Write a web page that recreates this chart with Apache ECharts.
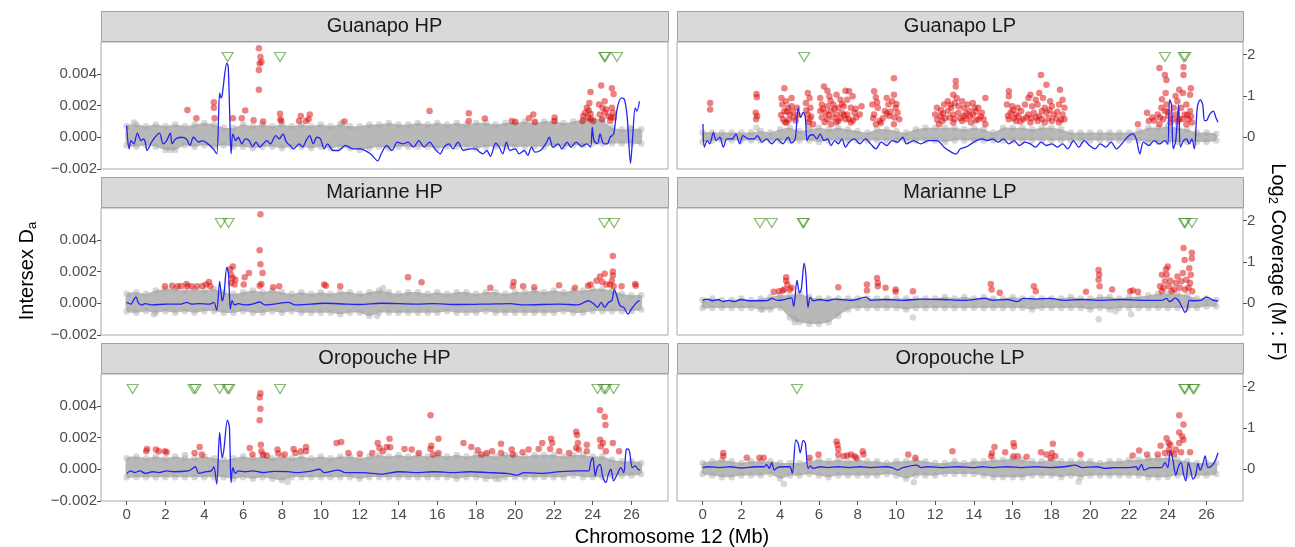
<!DOCTYPE html>
<html>
<head>
<meta charset="utf-8">
<script src="https://cdn.jsdelivr.net/npm/echarts@6/dist/echarts.min.js"></script>
<style>
  html, body { margin: 0; padding: 0; background: #fff; }
  #chart { width: 1295px; height: 547px; }
</style>
</head>
<body>
<div id="chart"></div>
<script>
// Da values are in units of 1e-3, log2 coverage in its own units (right axis)
const X_TICKS = [0, 2, 4, 6, 8, 10, 12, 14, 16, 18, 20, 22, 24, 26]
const DA_TICKS = [-2, 0, 2, 4]
const COV_TICKS = [0, 1, 2]
const TRI_Y = 5.05

// bins of the grey (non significant) cloud
const ENV_X = [0, 0.5, 1, 1.5, 2, 2.5, 3, 3.5, 4, 4.5, 5, 5.5, 6, 6.5, 7, 7.5, 8, 8.5, 9, 9.5,
  10, 10.5, 11, 11.5, 12, 12.5, 13, 13.5, 14, 14.5, 15, 15.5, 16, 16.5, 17, 17.5, 18, 18.5, 19, 19.5,
  20, 20.5, 21, 21.5, 22, 22.5, 23, 23.5, 24, 24.5, 25, 25.5, 26, 26.5]

// ---- Guanapo HP
const ghpHi = [0.7, 0.8, 0.7, 0.8, 0.7, 0.8, 0.7, 0.8, 0.9, 0.8,
  0.6, 0.6, 0.8, 0.7, 0.8, 0.7, 0.8, 0.7, 0.8, 0.7,
  0.8, 0.7, 0.8, 0.7, 0.7, 0.8, 0.8, 0.9, 0.8, 0.8,
  0.9, 0.8, 0.9, 0.8, 0.9, 0.8, 0.9, 0.9, 0.8, 0.9,
  0.9, 1.0, 0.9, 1.0, 1.0, 0.9, 1.0, 1.1, 1.2, 1.1,
  0.6, 0.5, 0.5, 0.5]
const ghpLo = [-0.5, -0.6, -0.5, -0.6, -0.8, -0.8, -0.5, -0.6, -0.5, -0.6,
  -0.5, -0.6, -0.6, -0.7, -0.6, -0.6, -0.7, -0.6, -0.6, -0.7,
  -0.6, -0.7, -0.6, -0.7, -0.8, -0.7, -0.6, -0.7, -0.6, -0.6,
  -0.6, -0.6, -0.7, -0.6, -0.6, -0.6, -0.7, -0.6, -0.6, -0.6,
  -0.6, -0.6, -0.6, -0.6, -0.5, -0.6, -0.5, -0.5, -0.4, -0.4,
  -0.4, -0.4, -0.4, -0.4]
const ghpGrey = [[0.37, 0.93], [2.25, -0.8], [11.09, 0.93], [25.9, 0.6]]
const ghpRed = [[6.81, 5.61], [6.89, 5.05], [6.94, 4.74], [6.85, 4.64], [6.81, 4.23], [6.81, 2.99], [3.13, 1.71], [3.59, 1.2],
  [4.49, 1.86], [4.49, 2.21], [4.53, 1.2], [5.47, 1.2], [5.93, 1.2], [6.11, 1.69], [6.54, 1.07], [7.03, 0.99], [7.9, 1.48],
  [7.92, 1.13], [7.96, 1.03], [8.97, 1.34], [8.88, 1.03], [9.24, 1.03], [9.43, 1.44], [9.37, 1.13], [11.22, 0.99], [15.6, 1.65],
  [17.62, 1.51], [17.62, 1.03], [18.45, 1.18], [19.83, 1.03], [20.02, 0.97], [20.72, 1.2], [20.94, 1.44], [21.03, 0.97],
  [22.04, 1.24], [22.04, 1.03], [23.89, 2.85], [24.44, 3.26], [24.99, 3.09], [25.08, 2.72], [24.62, 2.27], [23.83, 2.16],
  [23.7, 1.86], [23.8, 1.69], [23.61, 1.55], [23.89, 1.48], [23.52, 1.34], [23.76, 1.24], [23.89, 1.13], [23.48, 1.03],
  [24.03, 1.03], [24.33, 2.06], [24.51, 1.86], [24.7, 1.75], [24.36, 1.44], [24.62, 1.55], [24.81, 1.34], [24.99, 1.86],
  [25.04, 1.55], [24.94, 1.24], [25.08, 1.24], [24.9, 1.03], [24.49, 1.13]]
const ghpCov = [[0, 0.28], [0.13, -0.28], [0.22, -0.08], [0.37, -0.16], [0.55, 0.1], [0.74, -0.08], [0.87, -0.04], [0.96, -0.12],
  [1.05, -0.32], [1.33, -0.08], [1.69, 0.1], [1.88, -0.16], [2.06, -0.08], [2.25, 0.1], [2.34, -0.16], [2.52, -0.04], [2.8, 0],
  [3.08, -0.04], [3.26, -0.2], [3.44, 0], [3.72, -0.12], [3.9, -0.08], [4.18, -0.16], [4.46, -0.28], [4.64, -0.4], [4.79, 1.07],
  [4.86, 0.95], [4.92, 1.02], [5.16, 1.79], [5.23, 1.71], [5.3, 0.71], [5.38, -0.4], [5.47, 0.08], [5.62, -0.08], [5.75, 0],
  [5.93, -0.16], [6.11, -0.04], [6.3, -0.08], [6.48, -0.22], [6.67, -0.12], [6.85, -0.24], [7.03, -0.16], [7.22, -0.08],
  [7.4, -0.16], [7.68, 0.04], [7.86, -0.04], [8.05, 0.08], [8.23, -0.12], [8.42, -0.2], [8.6, -0.28], [8.88, -0.16],
  [9.06, -0.24], [9.24, -0.08], [9.43, 0.04], [9.61, -0.16], [9.8, 0], [9.98, -0.04], [10.17, -0.28], [10.35, -0.16],
  [10.63, -0.32], [10.9, -0.32], [11.27, -0.2], [11.64, -0.28], [12.01, -0.28], [12.56, -0.4], [12.93, -0.57], [13.11, -0.4],
  [13.39, -0.2], [13.66, -0.32], [13.94, -0.12], [14.22, -0.16], [14.49, -0.12], [14.77, -0.24], [15.05, -0.08],
  [15.32, -0.24], [15.6, -0.12], [15.87, -0.28], [16.15, -0.4], [16.34, -0.24], [16.61, -0.16], [16.8, -0.28], [17.07, -0.12],
  [17.35, -0.32], [17.72, -0.28], [17.99, -0.28], [18.18, -0.36], [18.36, -0.4], [18.55, -0.32], [18.73, -0.46],
  [19.01, -0.14], [19.19, -0.24], [19.37, -0.4], [19.56, -0.12], [19.74, -0.32], [20.02, -0.28], [20.2, -0.4], [20.48, -0.32],
  [20.66, -0.44], [20.85, -0.24], [21.03, -0.36], [21.31, -0.32], [21.58, -0.16], [21.77, 0], [21.95, -0.24], [22.23, -0.16],
  [22.41, -0.28], [22.69, -0.12], [22.87, -0.24], [23.15, -0.12], [23.43, -0.22], [23.7, -0.16], [23.89, -0.24],
  [23.98, 0.24], [24.07, -0.08], [24.25, -0.16], [24.38, 0.08], [24.57, -0.16], [24.75, -0.16], [24.9, 0], [25.08, 0.08],
  [25.27, 0.71], [25.49, 0.95], [25.64, 0.91], [25.78, 0.48], [25.95, -0.63], [26.06, 0], [26.19, 0.71], [26.28, 0.63],
  [26.41, 0.87]]
const ghpTri = [5.2, 7.9, 24.6, 24.65, 25.25]

// ---- Guanapo LP
const glpHi = [0.3, 0.3, 0.3, 0.3, 0.3, 0.3, 0.4, 0.3, 0.5, 0.6,
  0.4, 0.5, 0.6, 0.5, 0.6, 0.5, 0.4, 0.3, 0.5, 0.5,
  0.4, 0.3, 0.5, 0.6, 0.6, 0.6, 0.6, 0.5, 0.6, 0.5,
  0.3, 0.6, 0.6, 0.6, 0.5, 0.6, 0.6, 0.5, 0.3, 0.3,
  0.3, 0.3, 0.3, 0.3, 0.3, 0.4, 0.6, 0.6, 0.7, 0.6,
  0.5, 0.3, 0.3, 0.2]
const glpLo = [-0.3, -0.2, -0.2, -0.2, -0.2, -0.2, -0.2, -0.2, -0.2, -0.2,
  -0.2, -0.2, -0.3, -0.2, -0.2, -0.2, -0.2, -0.2, -0.2, -0.2,
  -0.2, -0.2, -0.2, -0.2, -0.2, -0.3, -0.2, -0.2, -0.2, -0.2,
  -0.2, -0.2, -0.2, -0.2, -0.2, -0.2, -0.2, -0.2, -0.2, -0.2,
  -0.2, -0.2, -0.2, -0.2, -0.2, -0.2, -0.3, -0.3, -0.3, -0.3,
  -0.3, -0.3, -0.3, -0.2]
const glpGrey = [[2.78, 0.6], [5.5, 0.7]]
const glpRed = [[0.39, 2.16], [0.39, 1.75],
  [2.78, 2.72], [2.8, 2.52], [2.74, 1.55], [2.81, 1.34], [2.76, 1.13],
  [4.22, 3.09], [4.07, 2.47], [4.31, 2.27], [4.11, 2.06], [4.41, 1.86], [4.59, 1.96], [4.22, 1.65], [4.5, 1.44], [4.7, 1.24],
  [4.15, 1.13], [4.33, 0.93], [4.59, 2.47], [4.87, 1.86], [5.43, 2.78], [5.52, 2.47], [5.33, 2.16], [5.56, 1.86], [5.43, 1.44],
  [5.52, 1.13], [5.7, 0.82], [4.05, 1.4], [4.25, 0.95], [4.45, 1.1], [4.65, 1.6], [4.8, 1.05], [5.35, 1.7], [5.6, 1.3],
  [5.45, 0.95], [4.9, 1.4], [4.35, 1.6],
  [6.26, 3.2], [6.44, 2.93], [6.91, 2.68], [7.37, 2.93], [7.56, 2.89], [6.07, 2.47], [6.54, 2.58], [7.11, 2.37], [7.46, 2.37],
  [7.74, 2.58], [6.15, 2.06], [6.44, 1.96], [6.74, 2.06], [7.0, 1.86], [7.28, 1.96], [7.65, 1.86], [6.07, 1.65], [6.35, 1.55],
  [6.63, 1.65], [6.91, 1.44], [7.19, 1.55], [7.46, 1.44], [7.83, 1.55], [6.15, 1.24], [6.44, 1.13], [6.74, 1.24], [7.0, 1.03],
  [7.37, 1.13], [7.65, 0.93], [6.63, 0.82], [7.93, 1.24], [8.2, 1.96], [8.11, 1.44], [6.2, 1.8], [6.5, 1.4], [6.8, 1.8],
  [7.1, 1.2], [7.3, 1.4], [7.55, 1.15], [7.75, 1.05], [6.3, 0.95], [6.9, 0.95], [7.2, 2.1], [6.6, 2.3], [7.9, 1.8],
  [8.85, 2.89], [8.94, 2.52], [8.76, 2.06], [9.04, 1.86], [8.85, 1.44], [9.13, 1.03], [8.94, 0.82], [9.5, 2.47], [9.59, 2.06],
  [9.41, 1.65], [9.63, 1.34], [9.87, 3.71], [9.87, 2.68], [9.78, 2.27], [9.96, 1.86], [10.06, 1.55], [10.15, 1.13], [9.87, 0.82],
  [8.8, 1.2], [9.0, 2.2], [9.3, 1.2], [9.5, 1.5], [9.7, 1.6], [9.9, 1.25], [10.0, 2.1], [9.2, 0.9],
  [13.06, 3.55], [13.06, 3.2], [12.93, 2.68], [13.11, 2.47], [12.09, 1.86], [12.0, 1.44], [12.28, 1.34], [12.46, 2.06],
  [12.65, 2.27], [12.83, 1.86], [13.02, 2.16], [13.2, 1.96], [13.39, 2.27], [13.48, 1.86], [13.67, 2.06], [13.94, 2.16],
  [14.04, 1.86], [12.65, 1.65], [12.93, 1.44], [13.2, 1.55], [13.48, 1.34], [13.76, 1.65], [13.94, 1.44], [14.22, 1.86],
  [14.41, 1.55], [14.59, 2.47], [14.5, 1.13], [12.37, 1.03], [12.93, 0.93], [13.39, 1.03], [13.85, 0.93], [14.22, 1.13],
  [12.2, 0.82], [14.59, 0.82], [12.1, 1.1], [12.4, 1.5], [12.5, 1.2], [12.75, 1.25], [13.0, 1.15], [13.3, 1.2], [13.6, 1.15],
  [13.8, 1.3], [14.1, 1.05], [14.35, 1.3], [12.8, 2.05], [13.6, 1.5], [14.1, 1.6], [12.3, 1.7],
  [17.46, 3.92], [17.74, 3.3], [16.91, 2.68], [17.37, 2.78], [18.44, 2.99], [15.8, 2.89], [15.8, 2.58], [16.81, 2.47],
  [17.19, 2.37], [17.56, 2.47], [17.93, 2.27], [18.57, 2.37], [15.7, 2.06], [15.98, 1.96], [16.26, 1.86], [16.63, 2.06],
  [17.0, 1.96], [17.28, 2.06], [17.65, 1.86], [18.02, 1.96], [18.39, 2.06], [18.67, 1.86], [15.89, 1.55], [16.17, 1.44],
  [16.44, 1.65], [16.81, 1.44], [17.09, 1.55], [17.37, 1.34], [17.74, 1.55], [18.11, 1.44], [18.57, 1.44], [15.8, 1.13],
  [16.17, 1.03], [16.54, 1.13], [16.91, 0.93], [17.28, 1.03], [17.65, 0.93], [18.02, 1.03], [18.39, 0.93], [18.67, 1.13],
  [15.75, 1.35], [16.05, 1.2], [16.3, 1.3], [16.7, 1.25], [16.95, 1.2], [17.2, 1.25], [17.5, 1.15], [17.85, 1.2], [18.25, 1.2],
  [18.5, 1.1], [16.4, 1.0], [17.9, 1.7], [16.0, 1.7], [18.3, 1.6], [17.5, 1.65],
  [23.57, 4.37], [23.85, 3.92], [23.93, 3.61], [23.89, 2.78], [24.81, 4.43], [24.81, 3.92], [24.59, 2.99], [24.78, 2.78],
  [25.19, 3.09], [25.15, 2.68], [22.46, 0.82], [22.93, 1.55], [23.02, 1.03], [23.2, 1.24], [23.48, 1.44], [23.67, 1.86],
  [23.76, 1.13], [23.93, 2.06], [23.85, 1.65], [24.02, 1.34], [24.13, 0.93], [24.31, 1.86], [24.41, 1.44], [24.5, 2.27],
  [24.59, 1.13], [24.69, 1.86], [24.87, 1.44], [24.96, 2.06], [25.06, 1.13], [25.15, 1.65], [25.24, 0.93], [24.96, 0.82],
  [23.57, 0.82], [23.3, 1.05], [23.6, 1.25], [24.0, 1.6], [24.25, 1.15], [24.5, 1.0], [24.75, 1.15], [25.0, 1.4], [24.4, 2.6],
  [23.7, 2.4], [25.2, 1.3]]
const glpCov = [[0.02, 0.32], [0.09, -0.24], [0.24, -0.08], [0.37, -0.16], [0.56, 0.12], [0.7, -0.08], [0.89, 0], [1.07, -0.24],
  [1.26, -0.04], [1.54, -0.04], [1.72, 0.08], [1.91, -0.16], [2.09, 0.04], [2.37, -0.04], [2.65, -0.04], [2.83, 0.04],
  [3.07, -0.12], [3.3, -0.04], [3.57, -0.16], [3.85, -0.04], [4.13, -0.16], [4.41, 0], [4.59, -0.14], [4.78, -0.04],
  [4.93, 0.71], [5.06, 0.48], [5.19, 0.6], [5.3, 0.48], [5.39, -0.08], [5.52, 0.04], [5.7, 0.06], [5.89, -0.04], [6.07, 0.08],
  [6.26, -0.08], [6.44, -0.04], [6.63, -0.2], [6.81, -0.08], [7.0, -0.16], [7.19, -0.04], [7.37, -0.24], [7.56, -0.12],
  [7.83, -0.04], [8.11, -0.16], [8.39, -0.04], [8.67, -0.16], [8.94, -0.28], [9.22, -0.12], [9.5, -0.2], [9.78, -0.08],
  [10.06, -0.12], [10.33, 0], [10.52, -0.16], [10.89, -0.08], [11.26, -0.16], [11.63, -0.08], [12.09, -0.08], [12.46, -0.24],
  [12.83, -0.36], [13.07, -0.41], [13.3, -0.28], [13.57, -0.24], [13.85, -0.16], [14.13, -0.08], [14.41, -0.04],
  [14.69, -0.08], [14.96, -0.04], [15.24, -0.12], [15.52, -0.04], [15.8, -0.16], [16.07, -0.08], [16.35, -0.2],
  [16.63, -0.12], [16.91, -0.16], [17.19, -0.24], [17.46, -0.12], [17.74, -0.2], [18.02, -0.16], [18.3, -0.24],
  [18.57, -0.16], [18.85, -0.28], [19.13, -0.08], [19.41, -0.24], [19.69, -0.08], [19.96, -0.2], [20.24, -0.28],
  [20.52, -0.16], [20.8, -0.24], [21.07, -0.12], [21.35, -0.28], [21.63, -0.16], [21.91, 0], [22.19, 0.08], [22.37, -0.04],
  [22.56, -0.4], [22.74, -0.12], [23.02, -0.2], [23.3, -0.08], [23.57, -0.16], [23.85, -0.08], [24.0, -0.16], [24.09, 0.91],
  [24.19, 0.79], [24.28, -0.28], [24.41, -0.08], [24.56, 0.79], [24.65, -0.24], [24.81, -0.08], [24.96, -0.04],
  [25.11, -0.16], [25.24, -0.04], [25.37, -0.28], [25.52, 0.71], [25.67, 0.91], [25.8, 0.79], [25.89, 0.4], [25.98, 0.4],
  [26.17, 0.56], [26.35, 0.63], [26.48, 0.48], [26.59, 0.36]]
const glpTri = [5.24, 23.85, 24.82, 24.9]

// ---- Marianne HP
const mhpHi = [0.6, 0.7, 0.6, 0.8, 0.9, 0.9, 0.8, 0.9, 0.8, 0.9,
  0.7, 0.6, 0.7, 0.8, 0.7, 0.8, 0.7, 0.6, 0.7, 0.6,
  0.7, 0.6, 0.7, 0.7, 0.6, 0.7, 0.8, 0.7, 0.6, 0.7,
  0.7, 0.6, 0.7, 0.6, 0.7, 0.7, 0.6, 0.7, 0.7, 0.6,
  0.7, 0.7, 0.8, 0.7, 0.8, 0.7, 0.8, 0.8, 0.9, 0.9,
  0.8, 0.6, 0.5, 0.5]
const mhpLo = [-0.5, -0.6, -0.5, -0.6, -0.5, -0.6, -0.5, -0.6, -0.5, -0.5,
  -0.6, -0.6, -0.5, -0.6, -0.6, -0.5, -0.6, -0.5, -0.6, -0.6,
  -0.6, -0.6, -0.7, -0.6, -0.6, -0.8, -0.6, -0.6, -0.6, -0.6,
  -0.6, -0.6, -0.6, -0.5, -0.6, -0.6, -0.6, -0.5, -0.6, -0.6,
  -0.6, -0.6, -0.6, -0.6, -0.6, -0.5, -0.6, -0.6, -0.5, -0.5,
  -0.5, -0.5, -0.5, -0.4]
const mhpGrey = [[12.9, -0.8], [13.2, 0.95], [1.4, -0.7]]
const mhpRed = [[6.89, 5.61], [6.85, 3.34], [6.89, 2.45], [7.0, 1.9], [6.94, 1.22], [6.85, 1.11], [1.97, 1.07], [2.34, 1.11],
  [2.62, 1.07], [2.8, 1.09], [3.08, 1.22], [3.13, 1.07], [3.35, 1.07], [3.63, 1.07], [3.9, 1.09], [4.09, 1.18], [4.24, 1.34],
  [4.31, 1.07], [5.34, 2.14], [5.47, 2.31], [5.38, 1.79], [5.47, 1.59], [5.6, 1.48], [5.38, 1.28], [5.56, 1.18], [6.08, 1.63],
  [6.3, 1.9], [6.03, 1.18], [7.55, 1.01], [7.86, 1.07], [10.17, 1.18], [10.26, 1.11], [11.0, 1.07], [14.49, 1.63],
  [15.19, 1.32], [18.73, 0.97], [19.93, 1.34], [19.89, 1.07], [20.42, 1.07], [20.99, 1.01], [22.27, 1.13], [23.09, 0.97],
  [23.76, 1.11], [23.89, 1.18], [24.2, 1.42], [24.38, 1.69], [24.62, 1.86], [24.49, 1.34], [24.71, 1.18], [25.04, 2.97],
  [25.04, 2.0], [25.04, 1.75], [24.99, 1.42], [24.9, 1.18], [25.08, 1.07], [25.49, 1.07], [26.19, 1.22], [26.22, 1.11]]
const mhpCov = [[0, 0.02], [0.22, -0.02], [0.41, 0.12], [0.5, 0.15], [0.59, 0.02], [0.77, -0.04], [0.96, -0.01], [1.33, -0.04],
  [2.06, -0.02], [2.8, -0.02], [3.08, 0.02], [3.35, -0.02], [3.72, -0.01], [4.27, -0.02], [4.49, 0.02], [4.64, -0.17],
  [4.79, 0.53], [4.92, 0.06], [5.01, 0.21], [5.16, 0.87], [5.25, 0.69], [5.34, -0.14], [5.43, 0.06], [5.56, -0.04],
  [5.75, -0.01], [6.11, -0.04], [6.48, -0.02], [6.85, 0.03], [7.13, -0.04], [7.59, -0.02], [8.32, 0.02], [8.69, -0.04],
  [9.5, -0.02], [10.2, 0], [11.27, -0.02], [12.0, -0.03], [13.1, 0], [14.95, -0.02], [15.8, -0.01], [17.0, -0.03],
  [18.64, -0.02], [19.74, -0.01], [20.48, -0.04], [22.32, -0.02], [23.24, -0.04], [23.79, 0.06], [24.07, -0.02],
  [24.25, -0.1], [24.44, 0.02], [24.62, -0.1], [24.81, 0.02], [24.99, 0.07], [25.12, 0.33], [25.27, 0.13], [25.41, -0.06],
  [25.6, -0.1], [25.82, -0.26], [26.0, -0.14], [26.19, -0.02], [26.41, 0.07]]
const mhpTri = [4.85, 5.25, 24.6, 25.1]

// ---- Marianne LP
const mlpHi = [0.2, 0.3, 0.2, 0.2, 0.3, 0.2, 0.3, 0.4, 0.5, 0.5,
  0.6, 0.4, 0.3, 0.3, 0.3, 0.3, 0.3, 0.3, 0.3, 0.3,
  0.3, 0.3, 0.3, 0.3, 0.3, 0.4, 0.3, 0.4, 0.3, 0.4,
  0.3, 0.3, 0.4, 0.3, 0.3, 0.3, 0.3, 0.3, 0.4, 0.3,
  0.3, 0.4, 0.4, 0.3, 0.4, 0.4, 0.5, 0.6, 0.6, 0.6,
  0.5, 0.3, 0.3, 0.2]
const mlpLo = [-0.3, -0.3, -0.3, -0.3, -0.3, -0.3, -0.4, -0.4, -0.3, -0.9,
  -1.2, -1.3, -1.3, -1.2, -0.8, -0.4, -0.3, -0.3, -0.3, -0.3,
  -0.3, -0.4, -0.3, -0.3, -0.3, -0.3, -0.3, -0.3, -0.3, -0.3,
  -0.3, -0.3, -0.3, -0.3, -0.4, -0.3, -0.3, -0.3, -0.3, -0.3,
  -0.4, -0.3, -0.4, -0.3, -0.3, -0.3, -0.3, -0.3, -0.3, -0.3,
  -0.3, -0.3, -0.2, -0.2]
const mlpGrey = [[4.75, -1.2], [4.75, -1.0], [10.85, -0.89], [20.43, -1.0], [21.3, -0.5], [22.1, -0.7], [3.1, -0.4]]
const mlpRed = [[3.67, 0.72], [3.94, 0.76], [4.13, 0.8], [4.31, 1.63], [4.31, 1.42], [4.37, 1.18], [4.22, 0.87], [4.5, 0.87],
  [4.59, 0.97], [7.0, 1.01], [8.48, 1.18], [8.48, 0.8], [9.0, 1.59], [9.04, 1.28], [9.04, 1.07], [9.44, 0.97], [9.96, 0.87],
  [9.96, 0.72], [10.85, 0.76], [14.87, 1.22], [14.91, 0.87], [15.33, 0.66], [17.09, 1.07], [17.19, 0.76], [19.78, 0.72],
  [20.43, 2.1], [20.46, 1.79], [20.43, 1.48], [20.48, 1.07], [21.13, 0.87], [22.06, 0.76], [22.46, 0.72], [22.19, 0.8],
  [24.81, 3.48], [25.24, 3.18], [24.87, 2.72], [25.24, 2.82], [24.0, 2.31], [23.91, 2.14], [23.7, 1.79], [23.94, 1.79],
  [25.11, 2.21], [25.19, 1.79], [24.78, 1.9], [24.5, 1.69], [23.85, 1.38], [24.13, 1.42], [24.41, 1.28], [24.69, 1.38],
  [24.96, 1.48], [25.15, 1.28], [23.6, 1.07], [23.78, 0.97], [24.06, 1.07], [24.33, 0.87], [24.61, 0.97], [24.89, 0.87],
  [25.07, 0.97], [25.26, 0.76], [23.69, 0.76], [24.2, 0.76]]
const mlpCov = [[0, 0.07], [0.24, 0.1], [0.52, 0.06], [0.8, 0.09], [1.07, 0.04], [1.35, 0.07], [1.63, 0.04], [2.0, 0.09],
  [2.37, 0.06], [2.74, 0.06], [3.11, 0.06], [3.39, 0.07], [3.57, 0.12], [3.85, 0.07], [4.22, 0.09], [4.44, 0.12], [4.59, 0.13],
  [4.7, -0.08], [4.87, 0.55], [5.0, 0.25], [5.09, 0.33], [5.24, 0.97], [5.33, 0.69], [5.44, -0.1], [5.56, 0.15], [5.7, 0.06],
  [6.07, 0.09], [6.44, 0.06], [6.81, 0.1], [7.19, 0.09], [7.56, 0.07], [7.93, 0.09], [8.44, 0.15], [8.67, 0.07], [9.41, 0.09],
  [10.33, 0.07], [11.26, 0.1], [12.37, 0.09], [13.48, 0.07], [14.59, 0.12], [14.96, 0.07], [15.7, 0.09], [16.26, 0.04],
  [16.54, 0.12], [17.19, 0.1], [17.93, 0.12], [18.67, 0.07], [19.59, 0.09], [20.52, 0.07], [21.63, 0.09], [22.74, 0.07],
  [23.67, 0.07], [23.94, 0.12], [24.07, 0.04], [24.22, 0.07], [24.37, 0.13], [24.56, 0.06], [24.74, -0.1], [24.89, -0.22],
  [25.0, -0.14], [25.11, 0.07], [25.33, 0.06], [25.7, 0.07], [25.98, 0.15], [26.17, 0.12], [26.35, 0.07], [26.59, 0.06]]
const mlpTri = [2.96, 3.57, 5.17, 5.22, 24.85, 24.9, 25.24]

// ---- Oropouche HP
const ohpHi = [0.7, 0.8, 0.7, 0.8, 0.7, 0.8, 0.7, 0.7, 0.8, 0.7,
  0.6, 0.7, 0.8, 0.7, 0.8, 0.7, 0.8, 0.7, 0.8, 0.7,
  0.8, 0.7, 0.8, 0.8, 0.7, 0.8, 0.9, 0.8, 0.9, 0.8,
  0.9, 0.8, 0.9, 0.8, 0.9, 0.8, 0.9, 0.9, 0.8, 0.9,
  0.9, 0.8, 0.9, 0.9, 0.9, 0.8, 0.9, 0.9, 0.8, 0.8,
  0.6, 0.5, 0.5, 0.4]
const ohpLo = [-0.5, -0.5, -0.5, -0.5, -0.5, -0.5, -0.5, -0.5, -0.5, -0.5,
  -0.5, -0.6, -0.5, -0.6, -0.5, -0.6, -0.7, -0.5, -0.5, -0.5,
  -0.5, -0.5, -0.5, -0.5, -0.6, -0.5, -0.5, -0.5, -0.5, -0.5,
  -0.5, -0.5, -0.5, -0.5, -0.6, -0.5, -0.5, -0.6, -0.6, -0.5,
  -0.5, -0.5, -0.5, -0.5, -0.5, -0.5, -0.4, -0.5, -0.5, -0.5,
  -0.4, -0.4, -0.4, -0.3]
const ohpGrey = [[8.3, -0.78], [19.2, -0.62], [3.0, 0.9]]
const ohpRed = [[6.89, 4.78], [6.85, 4.54], [6.89, 3.81], [6.85, 3.09], [6.91, 1.55], [6.94, 1.13], [7.03, 0.93],
  [1.01, 1.13], [1.05, 1.28], [1.51, 1.24], [1.66, 1.13], [1.97, 1.13], [2.06, 1.07], [3.5, 1.03], [3.76, 1.4], [3.87, 0.93],
  [6.34, 1.34], [6.48, 0.93], [7.22, 0.87], [7.77, 1.24], [7.81, 0.99], [8.14, 0.93], [8.6, 1.28], [8.69, 1.03], [8.97, 1.13],
  [9.24, 1.4], [9.24, 1.13], [10.81, 1.65], [11.05, 1.71], [11.42, 1.03], [12.01, 0.97], [12.65, 1.03], [12.93, 1.65],
  [13.02, 1.34], [13.2, 1.13], [13.39, 1.4], [13.57, 1.38], [13.54, 1.92], [14.31, 1.28], [14.68, 1.24], [15.05, 1.03],
  [15.65, 3.4], [15.69, 1.48], [15.65, 1.28], [15.78, 0.93], [16.06, 1.92], [16.06, 1.03], [17.35, 1.65], [17.75, 1.4],
  [18.08, 1.2], [18.27, 0.93], [18.55, 1.03], [18.82, 1.13], [19.28, 1.61], [19.28, 1.03], [19.83, 1.24], [19.89, 0.93],
  [20.39, 1.07], [20.7, 1.24], [21.22, 1.28], [21.4, 1.65], [21.86, 1.92], [21.92, 1.65], [21.81, 1.28], [22.28, 1.13],
  [22.78, 1.03], [23.15, 2.37], [23.2, 2.16], [23.24, 1.65], [23.15, 1.34], [23.28, 1.24], [23.7, 1.55], [23.7, 1.13],
  [24.38, 3.71], [24.62, 3.3], [24.66, 2.78], [24.38, 1.86], [24.53, 1.65], [24.42, 1.44], [24.68, 1.13], [25.04, 1.65],
  [25.36, 1.13]]
const ohpCov = [[0, -0.1], [0.22, -0.04], [0.41, -0.08], [0.68, -0.04], [0.96, -0.1], [1.33, -0.06], [1.69, -0.08],
  [2.06, -0.04], [2.43, -0.06], [3.17, -0.04], [3.35, 0], [3.54, 0.06], [3.72, -0.1], [4.09, -0.06], [4.36, -0.04],
  [4.49, 0.06], [4.64, -0.36], [4.79, 0.89], [4.92, 0.28], [5.01, 0.48], [5.19, 1.19], [5.29, 1.03], [5.38, -0.32],
  [5.47, 0.04], [5.6, -0.1], [5.75, -0.04], [6.11, -0.06], [6.48, -0.04], [7.03, -0.08], [7.59, -0.05], [8.32, -0.06],
  [8.69, -0.08], [9.43, -0.05], [9.94, 0], [10.17, -0.08], [10.9, -0.02], [11.27, -0.08], [12.19, -0.08], [13.11, -0.12],
  [14.03, -0.06], [14.95, -0.08], [15.87, -0.06], [16.8, -0.08], [17.72, -0.06], [18.64, -0.08], [19.56, -0.1],
  [20.11, -0.14], [20.48, -0.08], [21.4, -0.1], [22.32, -0.06], [23.24, -0.04], [23.79, -0.04], [23.89, 0.16], [24.01, 0.28],
  [24.13, -0.16], [24.25, 0.06], [24.38, 0.12], [24.53, -0.2], [24.68, -0.32], [24.81, -0.12], [24.94, 0], [25.08, -0.28],
  [25.27, -0.12], [25.45, 0.04], [25.6, -0.08], [25.73, 0.48], [25.82, 0.49], [25.91, 0.4], [26.04, 0.04], [26.19, 0.08],
  [26.33, 0], [26.45, -0.02]]
const ohpTri = [0.31, 3.45, 3.55, 4.79, 5.2, 5.28, 7.9, 24.25, 24.58, 24.68, 25.08]

// ---- Oropouche LP
const olpHi = [0.4, 0.5, 0.6, 0.5, 0.4, 0.5, 0.5, 0.5, 0.4, 0.4,
  0.4, 0.5, 0.6, 0.5, 0.6, 0.5, 0.6, 0.5, 0.5, 0.4,
  0.5, 0.5, 0.6, 0.5, 0.4, 0.4, 0.5, 0.4, 0.5, 0.5,
  0.6, 0.6, 0.7, 0.6, 0.5, 0.5, 0.6, 0.5, 0.5, 0.5,
  0.5, 0.4, 0.5, 0.5, 0.6, 0.6, 0.7, 0.7, 0.7, 0.6,
  0.5, 0.4, 0.4, 0.4]
const olpLo = [-0.3, -0.4, -0.5, -0.5, -0.4, -0.4, -0.4, -0.3, -0.6, -0.4,
  -0.4, -0.3, -0.4, -0.5, -0.4, -0.4, -0.4, -0.4, -0.4, -0.3,
  -0.4, -0.6, -0.4, -0.4, -0.4, -0.3, -0.3, -0.3, -0.3, -0.4,
  -0.5, -0.5, -0.5, -0.5, -0.4, -0.4, -0.4, -0.5, -0.4, -0.5,
  -0.4, -0.4, -0.4, -0.4, -0.4, -0.4, -0.5, -0.5, -0.5, -0.4,
  -0.4, -0.4, -0.4, -0.3]
const olpGrey = [[4.19, -0.93], [19.4, -0.78], [10.9, -0.82]]
const olpRed = [[1.07, 1.03], [1.07, 0.82], [2.28, 0.72], [2.93, 0.72], [3.15, 0.72], [5.52, 0.72], [5.98, 0.93], [6.91, 1.75],
  [6.96, 1.55], [7.0, 1.28], [7.0, 0.93], [7.28, 0.82], [7.46, 0.87], [7.65, 0.93], [7.83, 0.82], [7.93, 0.72], [8.26, 1.13],
  [8.3, 0.93], [10.61, 0.93], [10.98, 0.72], [12.89, 1.13], [14.93, 1.03], [15.06, 1.4], [14.89, 0.82], [15.61, 1.07],
  [16.04, 1.65], [16.07, 1.44], [16.04, 0.82], [16.26, 0.82], [16.72, 0.78], [17.46, 1.07], [17.74, 0.93], [18.07, 1.61],
  [18.02, 1.03], [18.2, 0.82], [17.96, 0.72], [19.5, 0.93], [22.19, 0.87], [22.52, 1.18], [22.93, 0.93], [23.48, 0.93],
  [23.63, 1.48], [23.94, 1.96], [24.04, 1.65], [24.13, 1.55], [24.07, 1.24], [24.59, 3.4], [24.81, 2.82], [24.59, 2.31],
  [24.74, 2.06], [24.81, 1.86], [24.59, 1.65], [24.41, 1.24], [24.69, 1.07], [24.13, 1.03], [25.15, 1.07], [24.33, 0.93],
  [23.85, 1.03]]
const olpCov = [[0, 0.04], [0.33, 0.06], [0.89, 0.04], [1.44, 0.06], [2.0, 0.03], [2.74, 0.06], [3.2, 0.06], [3.3, 0.12],
  [3.44, 0.02], [3.57, 0.16], [3.7, -0.02], [3.85, 0.04], [4.22, 0.06], [4.5, 0.06], [4.63, -0.1], [4.81, 0.71], [4.93, 0.63],
  [5.04, 0.4], [5.19, 0.7], [5.3, 0.63], [5.44, 0.02], [5.56, 0.08], [5.7, 0.02], [6.07, 0.06], [6.44, 0.04], [7.0, 0.06],
  [7.56, 0.04], [8.11, 0.06], [8.67, 0.04], [9.41, 0.06], [9.78, 0.04], [10.06, -0.02], [10.33, 0.04], [11.04, 0.1],
  [11.26, 0.04], [11.63, 0.06], [12.37, 0.04], [13.11, 0.06], [14.04, 0.04], [14.41, 0.06], [14.96, 0.04], [15.7, 0.06],
  [16.44, 0.04], [17.19, 0.06], [17.93, 0.04], [18.67, 0.06], [19.22, 0.1], [19.59, 0.04], [20.33, 0.06], [20.8, 0.02],
  [21.26, 0.04], [22.0, 0.04], [22.37, 0.06], [22.46, -0.02], [22.65, 0.12], [22.78, -0.02], [23.11, 0.04], [23.67, 0.04],
  [23.85, 0.16], [24.0, 0.04], [24.13, 0.44], [24.26, 0.24], [24.41, -0.14], [24.56, 0.08], [24.69, 0.16], [24.81, -0.12],
  [24.93, -0.28], [25.06, 0.16], [25.19, -0.04], [25.3, -0.24], [25.43, -0.16], [25.56, 0.14], [25.67, -0.02], [25.8, 0.12],
  [25.93, 0.32], [26.07, 0.04], [26.26, 0.08], [26.44, 0.2], [26.59, 0.4]]
const olpTri = [4.87, 24.85, 24.9, 25.3, 25.36]

const panels = [
  { name: 'Guanapo HP', hi: ghpHi, lo: ghpLo, grey: ghpGrey, red: ghpRed, cov: ghpCov, tri: ghpTri },
  { name: 'Guanapo LP', hi: glpHi, lo: glpLo, grey: glpGrey, red: glpRed, cov: glpCov, tri: glpTri },
  { name: 'Marianne HP', hi: mhpHi, lo: mhpLo, grey: mhpGrey, red: mhpRed, cov: mhpCov, tri: mhpTri },
  { name: 'Marianne LP', hi: mlpHi, lo: mlpLo, grey: mlpGrey, red: mlpRed, cov: mlpCov, tri: mlpTri },
  { name: 'Oropouche HP', hi: ohpHi, lo: ohpLo, grey: ohpGrey, red: ohpRed, cov: ohpCov, tri: ohpTri },
  { name: 'Oropouche LP', hi: olpHi, lo: olpLo, grey: olpGrey, red: olpRed, cov: olpCov, tri: olpTri },
]

// layout
const FONT = '"Liberation Sans", Arial, Helvetica, sans-serif'
const LEFTS = [101, 677]
const WIDTHS = [567, 566]
const TOPS = [42, 208, 374]
const PLOT_H = 127
const STRIP_H = 31
const X_MIN = -1.32
const X_MAX = 27.88
const DA_MIN = -2
const DA_MAX = 6
const COV_MIN = -0.768
const COV_MAX = 2.3035

const grids = []
const xAxes = []
const yAxes = []
const series = []
const graphic = []

// grey band drawn as one polygon through the axis coordinates
function bandRenderer(p) {
  return function (params, api) {
    if (params.dataIndex !== 0) return null
    const pts = []
    ENV_X.forEach((x, k) => pts.push(api.coord([x, p.hi[k]])))
    for (let k = ENV_X.length - 1; k >= 0; k--) pts.push(api.coord([ENV_X[k], p.lo[k]]))
    return {
      type: 'polygon',
      shape: { points: pts, smooth: 0.25 },
      style: { fill: 'rgba(168,168,168,0.82)' },
    }
  }
}

panels.forEach((p, i) => {
  const row = Math.floor(i / 2)
  const col = i % 2
  grids.push({
    left: LEFTS[col], top: TOPS[row], width: WIDTHS[col], height: PLOT_H,
    show: true, borderColor: '#a8a8a8', borderWidth: 1, backgroundColor: '#fff',
  })
  xAxes.push({
    gridIndex: i, type: 'value', min: X_MIN, max: X_MAX, position: 'bottom',
    axisLine: { show: false, onZero: false },
    splitLine: { show: false },
    axisTick: { show: row === 2, length: 4, customValues: X_TICKS, lineStyle: { color: '#555' } },
    axisLabel: { show: row === 2, customValues: X_TICKS, fontSize: 15, color: '#4d4d4d', fontFamily: FONT, margin: 6 },
  })
  yAxes.push({
    gridIndex: i, type: 'value', position: 'left', min: DA_MIN, max: DA_MAX,
    axisLine: { show: false, onZero: false },
    splitLine: { show: false },
    axisTick: { show: col === 0, length: 4, customValues: DA_TICKS, lineStyle: { color: '#555' } },
    axisLabel: {
      show: col === 0, customValues: DA_TICKS, fontSize: 15, color: '#4d4d4d', fontFamily: FONT, margin: 4,
      formatter: (v) => (v / 1000).toFixed(3).replace('-', '\u2212'),
    },
  })
  yAxes.push({
    gridIndex: i, type: 'value', position: 'right', min: COV_MIN, max: COV_MAX,
    axisLine: { show: false, onZero: false },
    splitLine: { show: false },
    axisTick: { show: col === 1, length: 4, customValues: COV_TICKS, lineStyle: { color: '#555' } },
    axisLabel: { show: col === 1, customValues: COV_TICKS, fontSize: 15, color: '#4d4d4d', fontFamily: FONT, margin: 4 },
  })

  series.push({
    type: 'custom', xAxisIndex: i, yAxisIndex: 2 * i, clip: true, silent: true, z: 1,
    data: ENV_X.map((x, k) => [x, p.lo[k], p.hi[k]]),
    encode: { x: 0, y: [1, 2] },
    renderItem: bandRenderer(p),
  })
  const greyDots = ENV_X.map((x, k) => [x, p.hi[k]]).concat(ENV_X.map((x, k) => [x, p.lo[k]]), p.grey)
  series.push({
    type: 'scatter', xAxisIndex: i, yAxisIndex: 2 * i, data: greyDots, symbolSize: 6.5, silent: true, z: 2,
    itemStyle: { color: 'rgba(165,165,165,0.55)' },
  })
  series.push({
    type: 'scatter', xAxisIndex: i, yAxisIndex: 2 * i, data: p.red, symbolSize: 6.5, silent: true, z: 3,
    itemStyle: { color: 'rgba(218,0,0,0.62)' },
  })
  series.push({
    type: 'line', xAxisIndex: i, yAxisIndex: 2 * i + 1, data: p.cov, symbol: 'none', smooth: 0.3, silent: true, z: 4,
    lineStyle: { color: '#2323f2', width: 1.3 },
  })
  series.push({
    type: 'scatter', xAxisIndex: i, yAxisIndex: 2 * i, data: p.tri.map((x) => [x, TRI_Y]), silent: true, z: 5,
    symbol: 'triangle', symbolRotate: 180, symbolSize: [11, 9],
    itemStyle: { color: 'rgba(0,0,0,0)', borderColor: 'rgba(60,140,30,0.75)', borderWidth: 1.2 },
  })

  // facet strip
  graphic.push({
    type: 'rect', z: 10,
    shape: { x: LEFTS[col] + 0.5, y: TOPS[row] - STRIP_H + 0.5, width: WIDTHS[col], height: STRIP_H - 1 },
    style: { fill: '#d9d9d9', stroke: '#a0a0a0', lineWidth: 1 },
  })
  graphic.push({
    type: 'text', z: 11, x: LEFTS[col] + WIDTHS[col] / 2, y: TOPS[row] - STRIP_H / 2,
    style: { text: p.name, fontSize: 20, fontFamily: FONT, fill: '#1a1a1a', align: 'center', verticalAlign: 'middle' },
  })
})

// axis titles
graphic.push({
  type: 'text', x: 27, y: 271, rotation: Math.PI / 2,
  style: {
    text: 'Intersex D{s|a}', fontSize: 20, fontFamily: FONT, fill: '#000', align: 'center', verticalAlign: 'middle',
    rich: { s: { fontSize: 13, fontFamily: FONT, fill: '#000', padding: [10, 0, 0, 0] } },
  },
})
graphic.push({
  type: 'text', x: 1278, y: 262, rotation: -Math.PI / 2,
  style: {
    text: 'Log{s|2} Coverage (M : F)', fontSize: 20, fontFamily: FONT, fill: '#000', align: 'center', verticalAlign: 'middle',
    rich: { s: { fontSize: 13, fontFamily: FONT, fill: '#000', padding: [10, 0, 0, 0] } },
  },
})
graphic.push({
  type: 'text', x: 672, y: 537,
  style: { text: 'Chromosome 12 (Mb)', fontSize: 20, fontFamily: FONT, fill: '#000', align: 'center', verticalAlign: 'middle' },
})

const chart = echarts.init(document.getElementById('chart'))
chart.setOption({
  animation: false,
  backgroundColor: '#fff',
  grid: grids,
  xAxis: xAxes,
  yAxis: yAxes,
  series: series,
  graphic: graphic,
})
</script>
</body>
</html>
